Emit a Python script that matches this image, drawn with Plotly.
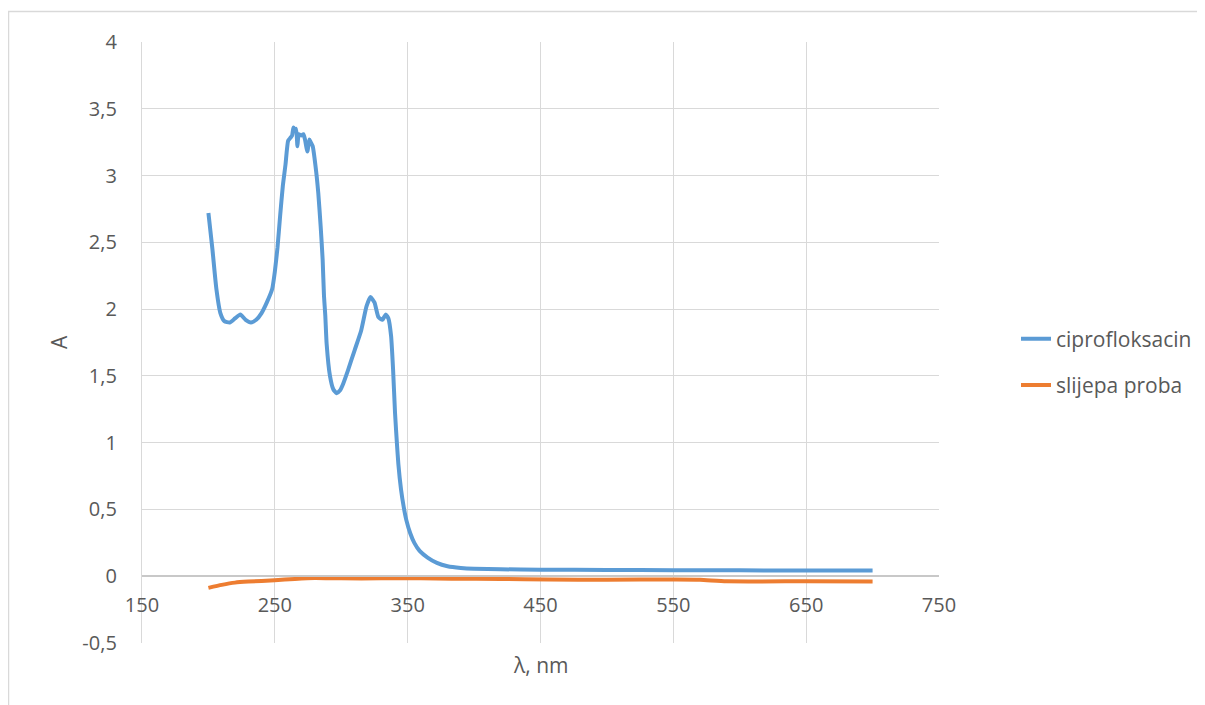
import plotly.graph_objects as go

# ---- data ----
cipro_nm = [200, 203, 206, 209, 212, 216, 220, 224, 228, 232, 236, 240, 244, 248, 250, 252, 254,
            256, 258, 260, 261.5, 263, 264, 265, 266, 267, 268, 270, 271.5, 272.7, 274.5, 276,
            277, 278.5, 281, 282.7, 284.5, 286, 287, 288, 289, 291.5, 294, 296.5, 299, 301, 305,
            310, 315, 319, 322, 325, 328, 331, 333.5, 335.5, 337.5, 339, 340.5, 342, 343, 345,
            347, 349, 352, 355, 359, 365, 372, 380, 390, 400, 420, 450, 500, 550, 600, 650, 700]
cipro_A = [2.72, 2.45, 2.15, 1.97, 1.91, 1.90, 1.93, 1.96, 1.92, 1.90, 1.92, 1.97, 2.05, 2.15, 2.28,
           2.46, 2.70, 2.92, 3.08, 3.26, 3.28, 3.30, 3.36, 3.34, 3.35, 3.22, 3.31, 3.30, 3.31, 3.27,
           3.18, 3.27, 3.25, 3.22, 3.04, 2.87, 2.62, 2.37, 2.10, 1.95, 1.74, 1.50, 1.40, 1.37, 1.39,
           1.43, 1.54, 1.69, 1.84, 2.02, 2.09, 2.05, 1.94, 1.92, 1.96, 1.93, 1.80, 1.55, 1.22, 0.98,
           0.84, 0.65, 0.52, 0.42, 0.32, 0.25, 0.19, 0.14, 0.10, 0.075, 0.062, 0.056, 0.052, 0.049,
           0.047, 0.045, 0.044, 0.043, 0.043]

blank_nm = [200, 210, 220, 230, 250, 265, 280, 300, 330, 360, 383, 420, 456, 500, 552, 570, 590, 650, 700]
blank_A = [-0.087, -0.065, -0.048, -0.040, -0.030, -0.020, -0.013, -0.016, -0.016, -0.015, -0.018,
           -0.020, -0.025, -0.026, -0.025, -0.027, -0.038, -0.038, -0.040]

series_names = ["ciprofloksacin", "slijepa proba"]
x_ticks = [150, 250, 350, 450, 550, 650, 750]
y_ticks = [-0.5, 0, 0.5, 1, 1.5, 2, 2.5, 3, 3.5, 4]
y_tick_text = ["-0,5", "0", "0,5", "1", "1,5", "2", "2,5", "3", "3,5", "4"]

FONT = "Open Sans"
TXT = "#595959"
GRID = "#d9d9d9"

fig = go.Figure()
fig.add_trace(go.Scatter(x=cipro_nm, y=cipro_A, mode="lines", name=series_names[0],
                         legendgroup="a",
                         line=dict(color="#5b9bd5", width=4, shape="spline", smoothing=0.5)))
fig.add_trace(go.Scatter(x=blank_nm, y=blank_A, mode="lines", name=series_names[1],
                         legendgroup="b",
                         line=dict(color="#ed7d31", width=4, shape="spline", smoothing=0.5)))

OFF = 8  # page body margin
PL, PR, PT, PB = 142, 939, 42, 643  # plot area in page pixels
W, H = 1197, 697
L, T = PL - OFF, PT - OFF
pw, ph = PR - PL, PB - PT
R = W - L - pw
B = H - T - ph

def px_x(p):
    return (p - PL) / pw

def px_y(p):
    return (PB - p) / ph

fig.update_layout(
    width=W, height=H,
    margin=dict(l=L, r=R, t=T, b=B, pad=0, autoexpand=False),
    paper_bgcolor="white", plot_bgcolor="white",
    font=dict(family=FONT, size=20, color=TXT),
    xaxis=dict(range=[150, 750], tickvals=x_ticks, ticktext=[str(v) for v in x_ticks],
               showgrid=True, gridcolor=GRID, gridwidth=1.3, zeroline=False,
               anchor="free", position=0.5 / 4.5,
               showline=True, linecolor="#c8c8c8", linewidth=1.5,
               ticks="", ticklabelstandoff=11, fixedrange=True),
    yaxis=dict(range=[-0.5, 4], tickvals=y_ticks, ticktext=y_tick_text,
               showgrid=True, gridcolor=GRID, gridwidth=1.3, zeroline=False,
               showline=True, linecolor=GRID, linewidth=1.3,
               ticks="", ticklabelstandoff=20, fixedrange=True),
    legend=dict(x=px_x(1016), y=px_y(362), xanchor="left", yanchor="middle",
                font=dict(family=FONT, size=21, color=TXT),
                tracegroupgap=16, traceorder="grouped", bgcolor="rgba(0,0,0,0)"),
    annotations=[
        dict(text="λ, nm", x=px_x(540), y=px_y(665), xref="paper", yref="paper",
             showarrow=False, font=dict(family=FONT, size=21, color=TXT),
             xanchor="center", yanchor="middle"),
        dict(text="A", x=px_x(59), y=px_y(342), xref="paper", yref="paper",
             showarrow=False, textangle=-90, font=dict(family=FONT, size=21, color=TXT),
             xanchor="center", yanchor="middle"),
    ],
    shapes=[
        dict(type="path", xref="paper", yref="paper",
             path=f"M {px_x(8.5)} {px_y(720)} L {px_x(8.5)} {px_y(11.5)} L {px_x(1220)} {px_y(11.5)}",
             line=dict(color=GRID, width=1.5)),
    ],
)

fig.write_html("out.html")
